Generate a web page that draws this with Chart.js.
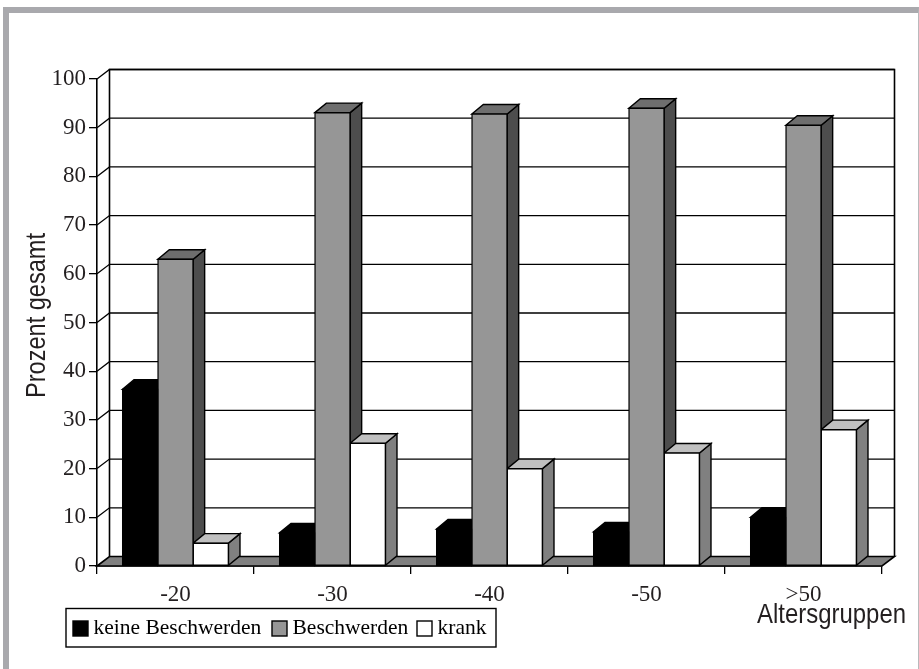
<!DOCTYPE html>
<html>
<head>
<meta charset="utf-8">
<script src="https://cdn.jsdelivr.net/npm/chart.js@4"></script>
<style>
  html, body { margin: 0; padding: 0; background: #fff; }
  #frame { position: absolute; left: 3px; top: 7px; width: 916px; height: 662px; box-sizing: border-box;
           border-top: 6px solid #a9a9ad; border-left: 6px solid #a9a9ad; border-right: 1px solid #b9b9bc; }
  #myChart { position: absolute; left: 0; top: 0; }
</style>
</head>
<body>
<div id="frame"></div>
<canvas id="myChart" width="919" height="669"></canvas>
<script>
var categories = ['-20', '-30', '-40', '-50', '>50'];
var keineBeschwerden = [36.3, 6.8, 7.6, 7, 10];
var beschwerden = [63, 93.1, 92.8, 94, 90.5];
var krank = [4.7, 25.2, 20, 23.2, 28];
var seriesNames = ['keine Beschwerden', 'Beschwerden', 'krank'];

var frontColors = ['#000000', '#969696', '#ffffff'];
var sideColors = ['#000000', '#4d4d4d', '#808080'];
var topColors = ['#000000', '#6e6e6e', '#c0c0c0'];

var wallDx = 12.5, wallDy = 9.5;
var barDx = 11.5, barDy = 9.5;
var serif = '"Liberation Serif"';
var narrow = '"Liberation Sans"';

function poly(ctx, pts, fill) {
  ctx.beginPath();
  ctx.moveTo(pts[0][0], pts[0][1]);
  for (var i = 1; i < pts.length; i++) ctx.lineTo(pts[i][0], pts[i][1]);
  ctx.closePath();
  if (fill) { ctx.fillStyle = fill; ctx.fill(); }
  ctx.stroke();
}

// back wall, left wall and floor, then the side and top of every bar
var depth3d = {
  id: 'depth3d',
  beforeDatasetsDraw: function (chart) {
    var ctx = chart.ctx, a = chart.chartArea, y = chart.scales.y;
    ctx.save();
    ctx.strokeStyle = '#000';
    ctx.lineWidth = 1.3;
    y.ticks.forEach(function (t) {
      var py = y.getPixelForValue(t.value);
      if (t.value > 0) {
        ctx.beginPath();
        ctx.moveTo(a.left, py);
        ctx.lineTo(a.left + wallDx, py - wallDy);
        ctx.lineTo(a.right + wallDx, py - wallDy);
        ctx.stroke();
      }
    });
    ctx.lineWidth = 1.6;
    ctx.beginPath();
    ctx.moveTo(a.left + wallDx, a.bottom - wallDy);
    ctx.lineTo(a.left + wallDx, a.top - wallDy);
    ctx.lineTo(a.right + wallDx, a.top - wallDy);
    ctx.lineTo(a.right + wallDx, a.bottom - wallDy);
    ctx.stroke();
    poly(ctx, [[a.left, a.bottom], [a.left + wallDx, a.bottom - wallDy],
      [a.right + wallDx, a.bottom - wallDy], [a.right, a.bottom]], '#808080');

    ctx.lineWidth = 1.4;
    chart.data.datasets.forEach(function (ds, d) {
      chart.getDatasetMeta(d).data.forEach(function (bar) {
        var l = bar.x - bar.width / 2, r = bar.x + bar.width / 2, t = bar.y, b = bar.base;
        poly(ctx, [[r, t], [r + barDx, t - barDy], [r + barDx, b - barDy], [r, b]], sideColors[d]);
        poly(ctx, [[l, t], [l + barDx, t - barDy], [r + barDx, t - barDy], [r, t]], topColors[d]);
      });
    });
    ctx.restore();
  },
  afterDraw: function (chart) {
    var ctx = chart.ctx;
    ctx.save();
    ctx.fillStyle = '#231f20';

    // axis titles, squeezed to a condensed look
    ctx.font = '28px ' + narrow;
    ctx.textBaseline = 'alphabetic';
    ctx.textAlign = 'right';
    ctx.fillText('Altersgruppen', 906, 623, 149);
    ctx.save();
    ctx.translate(45, 315.5);
    ctx.rotate(-Math.PI / 2);
    ctx.textAlign = 'center';
    ctx.fillText('Prozent gesamt', 0, 0, 165);
    ctx.restore();

    // legend box
    ctx.strokeStyle = '#000';
    ctx.lineWidth = 1.4;
    ctx.strokeRect(66, 608.5, 430, 38.5);
    ctx.font = '21.5px ' + serif;
    ctx.textBaseline = 'middle';
    ctx.textAlign = 'left';
    var swatchX = [73, 272, 417];
    seriesNames.forEach(function (name, i) {
      ctx.fillStyle = frontColors[i];
      ctx.fillRect(swatchX[i], 621, 15, 15);
      ctx.strokeRect(swatchX[i], 621, 15, 15);
      ctx.fillStyle = '#000';
      ctx.fillText(name, swatchX[i] + 20.5, 628);
    });
    ctx.restore();
  }
};

new Chart('myChart', {
  type: 'bar',
  data: {
    labels: categories,
    datasets: [keineBeschwerden, beschwerden, krank].map(function (values, i) {
      return {
        label: seriesNames[i],
        data: values,
        backgroundColor: frontColors[i],
        borderColor: '#000',
        borderWidth: 1.4,
        borderSkipped: false,
        inflateAmount: 0.6,
        barPercentage: 1,
        categoryPercentage: 0.675
      };
    })
  },
  options: {
    responsive: false,
    animation: false,
    layout: { padding: { top: 79, right: 37, left: 0, bottom: 0 } },
    plugins: { legend: { display: false }, tooltip: { enabled: false } },
    scales: {
      x: {
        afterFit: function (s) { s.height = 103; },
        border: { color: '#000', width: 1.6 },
        grid: { offset: true, drawOnChartArea: false, color: '#000', lineWidth: 1.3, tickLength: 8 },
        ticks: { color: '#231f20', font: { family: serif, size: 23 }, maxRotation: 0, padding: 7 }
      },
      y: {
        min: 0,
        max: 100,
        afterFit: function (s) { s.width = 97; },
        border: { color: '#000', width: 1.6 },
        grid: { drawOnChartArea: false, color: '#000', lineWidth: 1.3, tickLength: 8 },
        ticks: { stepSize: 10, color: '#231f20', font: { family: serif, size: 23 }, padding: 3 }
      }
    }
  },
  plugins: [depth3d]
});
</script>
</body>
</html>
